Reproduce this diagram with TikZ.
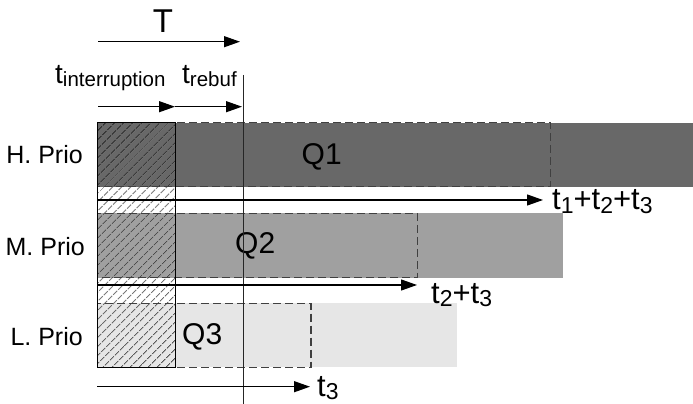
\documentclass[tikz,border=0pt]{standalone}
\usepackage{fontspec}
\setmainfont{Liberation Sans}
\usetikzlibrary{arrows.meta, patterns.meta}
\definecolor{prioH}{RGB}{104,104,104}
\definecolor{prioM}{RGB}{160,160,160}
\definecolor{prioL}{RGB}{230,230,230}
\newcommand{\tsub}[2][23]{t\raisebox{-3.5pt}{\fontsize{#1}{#1}\selectfont #2}}

\begin{document}
\begin{tikzpicture}[
    x=1pt, y=1pt,
    queue/.style={draw=black!75, line width=1.2pt, dash pattern=on 8pt off 4pt},
    hatch/.style={pattern={Lines[angle=45, distance=6.5pt, line width=0.8pt]}},
    time/.style={-{Triangle[length=16pt, width=11pt]}, line width=1.2pt},
    prio/.style={font=\fontsize{25}{25}\selectfont, inner sep=0pt, anchor=base east},
    qname/.style={font=\fontsize{30}{30}\selectfont, inner sep=0pt, anchor=base west},
    tlabel/.style={font=\fontsize{31}{31}\selectfont, inner sep=0pt, anchor=base west},
    tpart/.style={font=\fontsize{28}{28}\selectfont, inner sep=0pt, anchor=base west}
]
    \useasboundingbox (0,0) rectangle (693,404);

    % queues
    \fill[prioH] (97.3,217.3) rectangle (692.7,281.3);
    \fill[prioM] (97.3,126.3) rectangle (562.7,190.7);
    \fill[prioL] (97.3,36.7) rectangle (457,100.7);
    \fill[hatch] (97.3,36.7) rectangle (175.7,281.3);
    \draw[queue] (97.3,217.3) rectangle (550.7,281.3);
    \draw[queue] (97.3,126.3) rectangle (417.3,190.7);
    \draw[queue] (97.3,36.7) rectangle (311,100.7);
    \draw[line width=1.5pt] (97.3,36.7) rectangle (175.7,281.3);

    \node[prio] (hprio) at (83,240.7) {H. Prio};
    \node[prio] (mprio) at (85,148) {M. Prio};
    \node[prio] (lprio) at (83,58.5) {L. Prio};
    \node[qname] (q1) at (301.5,239.7) {Q1};
    \node[qname] (q2) at (235,150.7) {Q2};
    \node[qname] (q3) at (182,59.7) {Q3};

    % time axes
    \coordinate (tstart) at (98,362.3);
    \coordinate (tend) at (240,362.3);
    \draw[time] (tstart) -- (tend);
    \node[font=\fontsize{33}{33}\selectfont, inner sep=0pt, anchor=base] (T) at (163,371) {T};

    \coordinate (istart) at (98,297.3);
    \coordinate (iend) at (175,297.3);
    \coordinate (rend) at (242,297.3);
    \draw[time] (istart) -- (iend);
    \draw[time] (iend) -- (rend);
    \node[tpart] (tint) at (55,320.7) {\tsub[20.5]{interruption}};
    \node[tpart] (trebuf) at (182,320.7) {\tsub[20.5]{rebuf}};

    \coordinate (now top) at (243.3,329);
    \coordinate (now bottom) at (243.3,0);
    \draw[line width=1.4pt, black!85] (now top) -- (now bottom);

    \coordinate (s1) at (97.3,204);
    \coordinate (e1) at (543,204);
    \coordinate (s2) at (97.3,119);
    \coordinate (e2) at (417,119);
    \coordinate (s3) at (97.3,17.3);
    \coordinate (e3) at (310,17.3);
    \draw[time] (s1) -- (e1);
    \draw[time] (s2) -- (e2);
    \draw[time] (s3) -- (e3);
    \node[tlabel] (sum1) at (552,194) {\tsub{1}+\tsub{2}+\tsub{3}};
    \node[tlabel] (sum2) at (431,100.7) {\tsub{2}+\tsub{3}};
    \node[tlabel] (sum3) at (317,7.5) {\tsub{3}};
\end{tikzpicture}
\end{document}
